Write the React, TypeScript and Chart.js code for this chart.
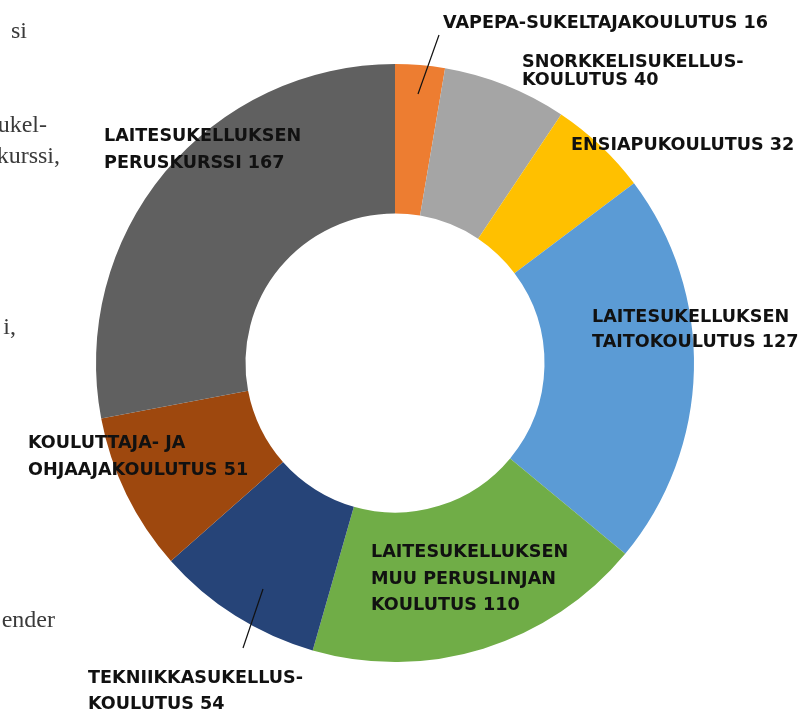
import React, { useEffect, useRef } from "react";
import { Chart, registerables } from "chart.js";

Chart.register(...registerables);

const categories: string[][] = [
  ["VAPEPA-SUKELTAJAKOULUTUS 16"],
  ["SNORKKELISUKELLUS-", "KOULUTUS 40"],
  ["ENSIAPUKOULUTUS 32"],
  ["LAITESUKELLUKSEN", "TAITOKOULUTUS 127"],
  ["LAITESUKELLUKSEN", "MUU PERUSLINJAN", "KOULUTUS 110"],
  ["TEKNIIKKASUKELLUS-", "KOULUTUS 54"],
  ["KOULUTTAJA- JA", "OHJAAJAKOULUTUS 51"],
  ["LAITESUKELLUKSEN", "PERUSKURSSI 167"],
];
const values: number[] = [16, 40, 32, 127, 110, 54, 51, 167];
const colors: string[] = [
  "#ED7D31",
  "#A5A5A5",
  "#FFC000",
  "#5B9BD5",
  "#70AD47",
  "#264478",
  "#9E480E",
  "#606060",
];

// label layout: [left x, first baseline y, line height]
const labelLayout: number[][] = [
  [443, 28, 27],
  [522, 67, 18],
  [571, 150, 27],
  [592, 322, 25],
  [371, 557, 26.5],
  [88, 683, 26],
  [28, 448, 27],
  [104, 141, 27],
];
// leader lines: [x1, y1, x2, y2]
const leaders: { idx: number; pts: number[] }[] = [
  { idx: 0, pts: [439, 35, 418, 94] },
  { idx: 5, pts: [263, 589, 243, 648] },
];
// page text fragments at left edge: [text, right x, baseline]
const fragments: [string, number, number][] = [
  ["si", 27, 38],
  ["ukel-", 47, 132],
  ["kurssi,", 60, 163],
  ["i,", 16, 334],
  ["ender", 55, 627],
];

const labelPlugin = {
  id: "customLabels",
  afterDraw(chart: any) {
    const ctx = chart.ctx as CanvasRenderingContext2D;
    ctx.save();
    ctx.fillStyle = "#3a3a3a";
    ctx.font = "24px 'Liberation Serif', 'DejaVu Serif', serif";
    ctx.textAlign = "right";
    ctx.textBaseline = "alphabetic";
    fragments.forEach(([t, x, y]) => ctx.fillText(t, x, y));
    ctx.strokeStyle = "#111";
    ctx.lineWidth = 1.2;
    leaders.forEach(({ pts }) => {
      ctx.beginPath();
      ctx.moveTo(pts[0], pts[1]);
      ctx.lineTo(pts[2], pts[3]);
      ctx.stroke();
    });
    ctx.fillStyle = "#111";
    ctx.font = "bold 17.6px 'DejaVu Sans', sans-serif";
    ctx.textAlign = "left";
    categories.forEach((lines, i) => {
      const [x, y, lh] = labelLayout[i];
      lines.forEach((line, j) => ctx.fillText(line, x, y + j * lh));
    });
    ctx.restore();
  },
};

export default function App() {
  const ref = useRef<HTMLCanvasElement | null>(null);
  useEffect(() => {
    document.body.style.margin = "0";
    document.body.style.background = "#ffffff";
    const chart = new Chart(ref.current as HTMLCanvasElement, {
      type: "doughnut",
      data: {
        labels: categories.map((l) => l.join(" ")),
        datasets: [
          {
            data: values,
            backgroundColor: colors,
            borderWidth: 0,
          },
        ],
      },
      options: {
        responsive: false,
        animation: false,
        cutout: "50%",
        rotation: 0,
        layout: { padding: { top: 64, bottom: 50, left: 96, right: 117 } },
        plugins: {
          legend: { display: false },
          tooltip: { enabled: false },
          title: { display: false },
        },
      },
      plugins: [labelPlugin],
    });
    return () => chart.destroy();
  }, []);
  return (
    <div style={{ position: "absolute", left: 0, top: 0, width: 811, height: 712 }}>
      <canvas ref={ref} width={811} height={712} style={{ display: "block" }} />
    </div>
  );
}
